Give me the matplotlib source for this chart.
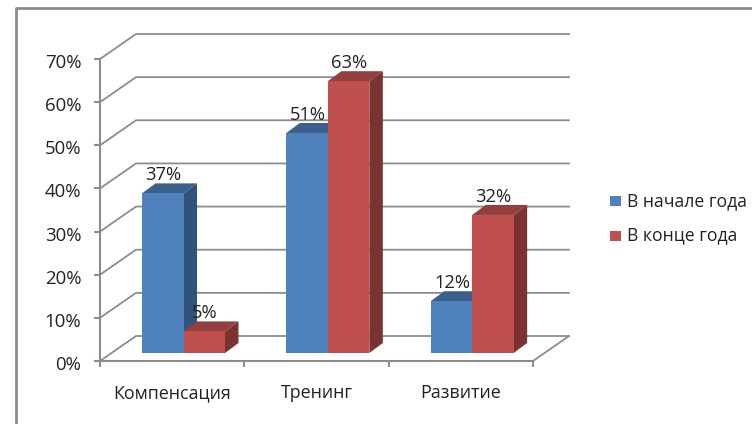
import matplotlib
matplotlib.use("Agg")
import matplotlib.pyplot as plt
from matplotlib.patches import Polygon, Rectangle
from matplotlib.lines import Line2D
from matplotlib.transforms import ScaledTranslation

categories = ["Компенсация", "Тренинг", "Развитие"]
series_names = ["В начале года", "В конце года"]
start_year = [37, 51, 12]
end_year = [5, 63, 32]
y_ticks = [0, 10, 20, 30, 40, 50, 60, 70]

W, H = 752, 424
fig = plt.figure(figsize=(W / 100, H / 100), dpi=100)
plt.rcParams["font.family"] = ["Open Sans", "DejaVu Sans"]
# front plane of the chart box in pixels
L, R, T, B = 100, 533, 59, 361
ax = fig.add_axes([L / W, 1 - B / H, (R - L) / W, (B - T) / H])
ax.set_xlim(0, 3)
ax.set_ylim(0, 70)
ax.patch.set_alpha(0)
for s in ("top", "right"):
    ax.spines[s].set_visible(False)
for s in ("left", "bottom"):
    ax.spines[s].set_color("#8c8c8c")
    ax.spines[s].set_linewidth(1.5)
px_x = 3 / (R - L)
px_y = 70 / (B - T)
wall_dx, wall_dy = 36 * px_x, 25 * px_y
ax.set_yticks(y_ticks)
ax.set_yticklabels([f"{v}%" for v in y_ticks], fontsize=13.4, color="#222222")
ax.set_xticks([0, 1, 2, 3])
ax.set_xticklabels([])
ax.tick_params(axis="both", color="#8c8c8c", width=1.5, length=4.5, pad=9)
shift = ScaledTranslation(0, -2 / 100, fig.dpi_scale_trans)
for t in ax.get_yticklabels():
    t.set_transform(t.get_transform() + shift)
for i, c in enumerate(categories):
    ax.text(i + 0.5, -(37 * px_y), c, ha="center", va="baseline", fontsize=12.9, color="#222222", clip_on=False)

for v in y_ticks:
    ax.plot([0, wall_dx, 3 + wall_dx], [v, v + wall_dy, v + wall_dy], color="#8c8c8c", lw=1.3, clip_on=False, zorder=1)
ax.plot([3, 3 + wall_dx], [0, wall_dy], color="#8c8c8c", lw=1.3, clip_on=False, zorder=1)

bar_w = 41.5 * px_x
start_x = 42 * px_x
base = 8 * px_y
ddx, ddy = 13.5 * px_x, 10 * px_y
colors = {0: ("#4f81bd", "#3d5f8c", "#325379"), 1: ("#c0504d", "#923f3d", "#7a3331")}

def bar(x, v, c, z):
    f, t, s = c
    top = v + base
    ax.add_patch(Rectangle((x, base), bar_w, v, fc=f, ec="none", zorder=z + 1, clip_on=False))
    ax.add_patch(Polygon([(x, top), (x + ddx, top + ddy), (x + bar_w + ddx, top + ddy), (x + bar_w, top)], fc=t, ec="none", zorder=z, clip_on=False))
    ax.add_patch(Polygon([(x + bar_w, base), (x + bar_w + ddx, base + ddy), (x + bar_w + ddx, top + ddy), (x + bar_w, top)], fc=s, ec="none", zorder=z, clip_on=False))
    ax.text(x + bar_w / 2 + 0.5 * px_x, top + ddy + 3 * px_y, f"{v}%", ha="center", va="baseline", fontsize=13.2, color="#222222", zorder=20, clip_on=False)

for i in range(3):
    x0 = i + start_x
    bar(x0, start_year[i], colors[0], 3 + i)
    bar(x0 + bar_w, end_year[i], colors[1], 5 + i)

fig.add_artist(Line2D([16 / W, 16 / W, 1], [0, 1 - 8 / H, 1 - 8 / H], color="#8c8c8c", lw=2))

for name, c, y in zip(series_names, ("#4f81bd", "#c0504d"), (201, 235.5)):
    fig.add_artist(Rectangle((610 / W, 1 - (y + 5) / H), 11 / W, 10 / H, fc=c, ec="none", transform=fig.transFigure))
    fig.text(627 / W, 1 - y / H, name, ha="left", va="center", fontsize=12.7, color="#222222")

fig.savefig("out.png", dpi=100)
